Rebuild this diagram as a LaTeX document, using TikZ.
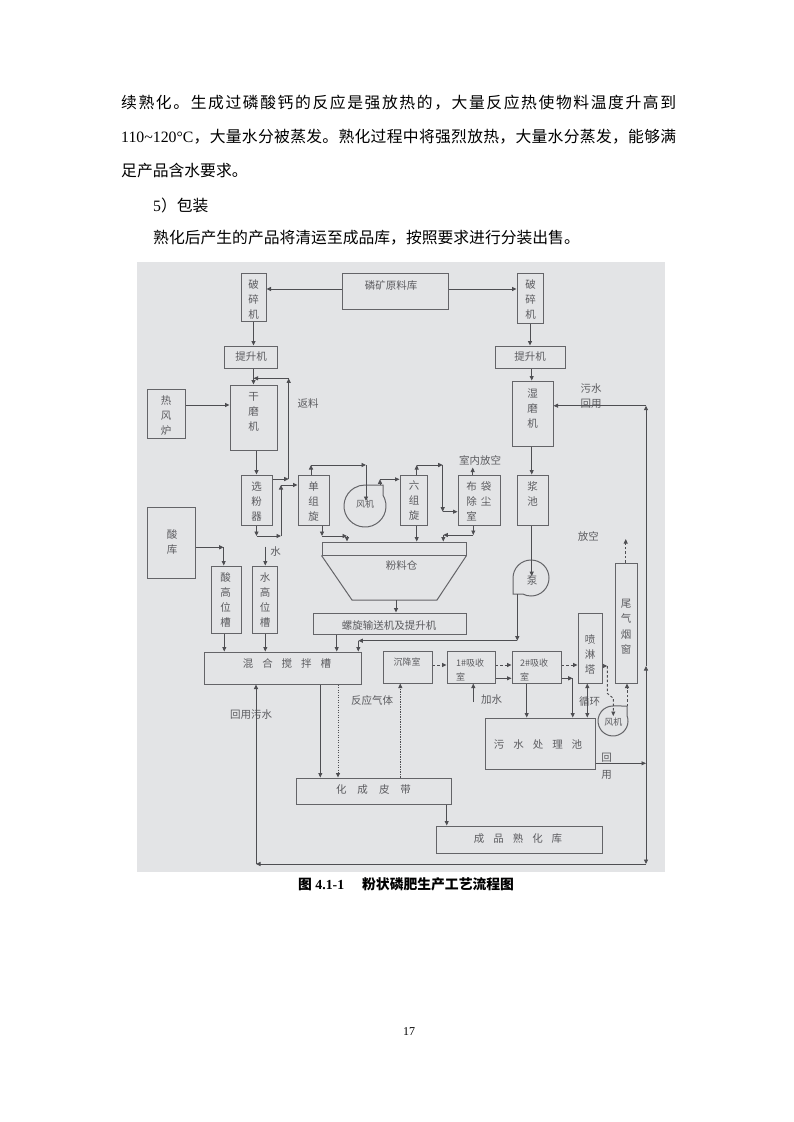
\documentclass[tikz,border=0pt]{standalone}
\usepackage{fontspec}
\setmainfont{Liberation Serif}
\newfontfamily\cjk{Noto Sans CJK SC}
\usetikzlibrary{arrows.meta,calc}
\def\spr#1{\ifx\relax#1\unskip\else#1\hfil\expandafter\spr\fi}
\definecolor{bg}{RGB}{227,228,230}
\definecolor{ln}{RGB}{78,78,82}
\definecolor{bx}{RGB}{100,100,104}
\definecolor{tx}{RGB}{92,92,96}
\tikzset{
  box/.style={draw=bx, line width=1pt, inner sep=0pt},
  lbl/.style={font=\cjk\fontsize{10.5}{15}\selectfont, text=tx, inner sep=0pt, align=center},
  sml/.style={font=\cjk\fontsize{9}{13.4}\selectfont, text=tx, inner sep=0pt, align=left},
  arr/.style={draw=ln, line width=0.9pt, -{Triangle[length=4.5pt,width=4pt]}},
  arrboth/.style={draw=ln, line width=0.9pt, {Triangle[length=4.5pt,width=4pt]}-{Triangle[length=4.5pt,width=4pt]}},
  arrdash/.style={arr, dash pattern=on 2.5pt off 2pt},
  arrdot/.style={arr, dash pattern=on 1.2pt off 1.3pt},
  body/.style={font=\cjk\fontsize{15.8}{20}\selectfont, inner sep=0pt, text=black},
}
\begin{document}
\begin{tikzpicture}[x=1pt,y=-1pt]
\useasboundingbox (0,0) rectangle (793,1122);
\fill[white] (0,0) rectangle (793,1122);

% ---------------- body text ----------------
\node[body, anchor=west] (t1) at (121,103)
  {\hbox to 555pt{\spr 续熟化。生成过磷酸钙的反应是强放热的，大量反应热使物料温度升高到\relax}};
\node[body, anchor=west] (t2) at (121,137)
  {\hbox to 555pt{{\rmfamily 110\textasciitilde 120°C}\hfil\spr ，大量水分被蒸发。熟化过程中将强烈放热，大量水分蒸发，能够满\relax}};
\node[body, anchor=west] (t3) at (121,171) {足产品含水要求。};
\node[body, anchor=west] (t4) at (153,205) {{\rmfamily 5}）包装};
\node[body, anchor=west] (t5) at (153,238) {熟化后产生的产品将清运至成品库，按照要求进行分装出售。};

% ---------------- figure background ----------------
\fill[bg] (137,262) rectangle (665,872);

% ---------------- boxes ----------------
\node[box, minimum width=25pt, minimum height=48pt] (psL) at (253.5,297) {};
\node[box, minimum width=106pt, minimum height=36pt] (lk) at (395,291) {};
\node[box, minimum width=26pt, minimum height=50pt] (psR) at (530,298) {};
\node[box, minimum width=53pt, minimum height=22pt] (tsL) at (250.5,357) {};
\node[box, minimum width=70pt, minimum height=22pt] (tsR) at (530,357) {};
\node[box, minimum width=47pt, minimum height=65pt] (gmj) at (253.5,417.5) {};
\node[box, minimum width=38pt, minimum height=49pt] (rfl) at (166,413.5) {};
\node[box, minimum width=41pt, minimum height=65pt] (smj) at (532.5,413.5) {};
\node[box, minimum width=31pt, minimum height=50pt] (xfq) at (256.5,500) {};
\node[box, minimum width=31pt, minimum height=50pt] (dzx) at (313.5,500) {};
\node[box, minimum width=27pt, minimum height=50pt] (lzx) at (413.5,500) {};
\node[box, minimum width=42pt, minimum height=50pt] (bd) at (479,500) {};
\node[box, minimum width=31pt, minimum height=50pt] (jc) at (532.5,500) {};
\node[box, minimum width=48pt, minimum height=71pt] (sk) at (171,542.5) {};
\node[box, minimum width=30pt, minimum height=67pt] (sgw) at (226,599.5) {};
\node[box, minimum width=25pt, minimum height=67pt] (wgw) at (264.5,599.5) {};
\node[box, minimum width=144pt, minimum height=13pt] (flc) at (394,548.5) {};
\draw[draw=bx, line width=1pt] (flc.south west) -- (352,600) -- (437,600) -- (flc.south east);
\coordinate (flcb) at (396,600);
\node[box, minimum width=153pt, minimum height=21pt] (lx) at (389.5,623.5) {};
\node[box, minimum width=157pt, minimum height=32pt] (hh) at (282.5,668) {};
\node[box, minimum width=49pt, minimum height=32pt] (cjs) at (407.5,667) {};
\node[box, minimum width=48pt, minimum height=32pt] (x1) at (471,667) {};
\node[box, minimum width=49pt, minimum height=32pt] (x2) at (536.5,667) {};
\node[box, minimum width=24pt, minimum height=70pt] (plt) at (590,648) {};
\node[box, minimum width=22pt, minimum height=120pt] (wq) at (626,623) {};
\node[box, minimum width=110pt, minimum height=51pt] (ws) at (540,743.5) {};
\node[box, minimum width=155pt, minimum height=26pt] (hc) at (373.5,791) {};
\node[box, minimum width=166pt, minimum height=27pt] (cp) at (519,839.5) {};

% fans and pump
\coordinate (fan1c) at (365,506);
\draw[draw=bx, line width=1pt] (383,495.2) arc[start angle=31, end angle=-270, radius=21pt] -- (383,485) -- cycle;
\coordinate (fan2c) at (613,721);
\draw[draw=bx, line width=1pt] (627,715.6) arc[start angle=21, end angle=-270, radius=15pt] -- (627,706) -- cycle;
\coordinate (pumpc) at (531,578);
\draw[draw=bx, line width=1pt] (513,578) arc[start angle=180, end angle=-117.3, radius=18pt] -- (513,594) -- cycle;

% ---------------- texts in boxes ----------------
\node[lbl] (psLt) at (253.5,300) {破\\碎\\机};
\node[lbl] (psRt) at (530.5,299.5) {破\\碎\\机};
\node[lbl] (lkt) at (391,285.5) {磷矿原料库};
\node[lbl] (tsLt) at (251,357) {提升机};
\node[lbl] (tsRt) at (530,357) {提升机};
\node[lbl] (gmjt) at (253.5,411.7) {干\\磨\\机};
\node[lbl] (rflt) at (166,416) {热\\风\\炉};
\node[lbl] (smjt) at (532.5,408.3) {湿\\磨\\机};
\node[lbl] (xfqt) at (256.5,502) {选\\粉\\器};
\node[lbl] (dzxt) at (313.5,501.7) {单\\组\\旋};
\node[lbl] (lzxt) at (414,501) {六\\组\\旋};
\node[lbl, align=left, anchor=west] (bdt) at (466.2,501.7) {布\hspace{4pt}袋\\除\hspace{4pt}尘\\室};
\node[lbl] (jct) at (532.5,494.2) {浆\\池};
\node[lbl] (skt) at (172,542) {酸\\库};
\node[lbl] (sgwt) at (225.5,600.5) {酸\\高\\位\\槽};
\node[lbl] (wgwt) at (265,600.5) {水\\高\\位\\槽};
\node[lbl] (flct) at (401.7,565) {粉料仓};
\node[lbl] (lxt) at (389,625) {螺旋输送机及提升机};
\node[lbl] (hht) at (287,663.3) {混\hspace{9pt}合\hspace{9pt}搅\hspace{9pt}拌\hspace{9pt}槽};
\node[sml] (cjst) at (407,661.7) {沉降室};
\node[sml, anchor=west] (x1t) at (456,670) {1\#吸收\\室};
\node[sml, anchor=west] (x2t) at (520,670) {2\#吸收\\室};
\node[lbl] (pltt) at (590,655) {喷\\淋\\塔};
\node[lbl, font=\cjk\fontsize{10.5}{15.5}\selectfont] (wqt) at (626,627) {尾\\气\\烟\\窗};
\node[lbl] (wst) at (538,745) {污\hspace{9pt}水\hspace{9pt}处\hspace{9pt}理\hspace{9pt}池};
\node[lbl] (hct) at (373.5,790) {化\hspace{11pt}成\hspace{11pt}皮\hspace{11pt}带};
\node[lbl] (cpt) at (518,838.3) {成\hspace{9pt}品\hspace{9pt}熟\hspace{9pt}化\hspace{9pt}库};
\node[sml] (fan1t) at (365,504) {风机};
\node[sml] (fan2t) at (613.3,722) {风机};
\node[lbl] (pumpt) at (532,581) {泵};

% ---------------- free labels ----------------
\node[lbl] (flt) at (308,403) {返料};
\node[lbl, align=left] (wshy) at (591,395.8) {污水\\回用};
\node[lbl] (snfk) at (480,460.5) {室内放空};
\node[lbl] (shui) at (275.5,551.7) {水};
\node[lbl] (fkt) at (588.3,536.7) {放空};
\node[lbl] (jst) at (491.7,700) {加水};
\node[lbl] (xht) at (589.5,701.7) {循环};
\node[lbl, font=\cjk\fontsize{10.5}{17.3}\selectfont] (hyt) at (606.7,766.3) {回\\用};
\node[lbl] (fyqt) at (372,700) {反应气体};
\node[lbl] (hyws) at (251,715) {回用污水};

% ---------------- connectors ----------------
\draw[arr] ([yshift=2pt]lk.west) -- ([yshift=8pt]psL.east);
\draw[arr] ([yshift=2pt]lk.east) -- ([yshift=9pt]psR.west);
\draw[arr] (psL.south) -- (psL.south |- tsL.north);
\draw[arr] (psR.south) -- (tsR.north);
\draw[arr] (gmj.north |- tsL.south) -- (gmj.north);
\draw[arr] ([yshift=8.5pt]rfl.east) -- ([yshift=12.5pt]gmj.west);
\draw[arr] (xfq.north |- gmj.south) -- (xfq.north);

% return material
\coordinate (fl1) at (288.7,479);
\coordinate (fl2) at (288.7,378.3);
\draw[arr] ([yshift=21pt]xfq.east) -- (fl1);
\draw[arr] (fl1) -- (fl2);
\draw[arr] (fl2) -- (fl2 -| gmj.north);

% classifier -> single cyclone
\coordinate (s1) at (256.5,536);
\coordinate (s2) at (281,536);
\coordinate (s3) at (281,485);
\draw[arr] (xfq.south) -- (s1);
\draw[arr] (s1) -- (s2);
\draw[arr] (s2) -- (s3);
\draw[arr] (s3) -- (s3 -| dzx.west);

% single cyclone -> fan
\coordinate (d1) at (311,465);
\coordinate (d2) at (366,465);
\draw[arr] (d1 |- dzx.north) -- (d1);
\draw[arr] (d1) -- (d2);
\draw[arr] (d2) -- (366,501);

% fan -> six cyclones
\coordinate (f1o) at (380,485);
\coordinate (f1u) at (380,479.3);
\draw[arr] (f1o) -- (f1u);
\draw[arr] (f1u) -- (f1u -| lzx.west);

% six cyclones -> bag filter
\coordinate (l1) at (416.7,465);
\coordinate (l2) at (442.7,465);
\coordinate (l3) at (442.7,511.7);
\draw[arr] (l1 |- lzx.north) -- (l1);
\draw[arr] (l1) -- (l2);
\draw[arr] (l2) -- (l3);
\draw[arr] (l3) -- (l3 -| bd.west);
\coordinate (b1) at (472.7,467.5);
\draw[arr] (b1 |- bd.north) -- (b1);

% into powder bin
\draw[arr] (l1 |- lzx.south) -- (l1 |- flc.north);
\coordinate (u1) at (322,536);
\coordinate (u2) at (347,536);
\draw[arr] (u1 |- dzx.south) -- (u1);
\draw[arr] (u1) -- (u2);
\draw[arr] (u2) -- (u2 |- flc.north);
\coordinate (v1) at (473.3,535);
\coordinate (v2) at (443.3,535);
\draw[arr] (v1 |- bd.south) -- (v1);
\draw[arr] (v1) -- (v2);
\draw[arr] (v2) -- (v2 |- flc.north);

\draw[arr] (flcb) -- (flcb |- lx.north);
\coordinate (k1) at (336.7,0);
\draw[arr] (k1 |- lx.south) -- (k1 |- hh.north);

% acid & water
\coordinate (a1) at (223.7,547.3);
\draw[arr] (a1 -| sk.east) -- (a1);
\draw[arr] (a1) -- (a1 |- sgw.north);
\coordinate (w1) at (265.3,546.7);
\draw[arr] (w1) -- (w1 |- wgw.north);
\coordinate (a2) at (224.3,0);
\draw[arr] (a2 |- sgw.south) -- (a2 |- hh.north);
\coordinate (w2) at (265.3,0);
\draw[arr] (w2 |- wgw.south) -- (w2 |- hh.north);

% wet line
\coordinate (r1) at (531.7,0);
\draw[arr] (r1 |- tsR.south) -- (r1 |- smj.north);
\draw[arr] (r1 |- smj.south) -- (r1 |- jc.north);
\draw[arr] (r1 |- jc.south) -- (r1 |- pumpt.north);
\coordinate (p1) at (517.3,594);
\coordinate (p2) at (517.3,640.7);
\coordinate (p3) at (358.3,640.7);
\draw[arr] (p1) -- (p2);
\draw[arr] (p2) -- (p3);
\draw[arr] (p3) -- (p3 |- hh.north);

% mixing -> belt
\coordinate (h1) at (320.3,0);
\draw[arr] (h1 |- hh.south) -- (h1 |- hc.north);
\coordinate (h2) at (338,0);
\draw[arrdot] (h2 |- hh.south) -- (h2 |- hc.north);
\coordinate (h3) at (400.3,0);
\draw[arrdot] (h3 |- hc.north) -- (h3 |- cjs.south);
\coordinate (h4) at (446.7,0);
\draw[arr] (h4 |- hc.south) -- (h4 |- cp.north);

% gas treatment
\draw[arrdash] ([yshift=2pt]cjs.east) -- ([yshift=2pt]x1.west);
\draw[arrdash] ([yshift=2pt]x1.east) -- ([yshift=2pt]x2.west);
\draw[arr] ([yshift=-11.3pt]x1.east) -- ([yshift=-11.3pt]x2.west);
\draw[arrdash] ([yshift=2pt]x2.east) -- ([yshift=-17pt]plt.west);
\coordinate (g1) at (572.7,678.3);
\draw[arr] ([yshift=-11.3pt]x2.east) -- (g1);
\draw[arr] (g1) -- (g1 |- ws.north);
\coordinate (g2) at (526.7,0);
\draw[arr] (g2 |- x2.south) -- (g2 |- ws.north);
\coordinate (js) at (473.3,702);
\draw[arr] (js) -- (js |- x1.south);
\coordinate (xh) at (587.3,0);
\draw[arrboth] (xh |- plt.south) -- (xh |- ws.north);
\coordinate (q1) at (607.3,666);
\coordinate (q2) at (607.3,693.3);
\coordinate (q3) at (613.3,698.3);
\coordinate (q4) at (613.3,716);
\draw[arrdash] (q1 -| plt.east) -- (q1);
\draw[arrdash] (q1) -- (q2) -- (q3) -- (q4);
\coordinate (f2o) at (627,706);
\draw[arrdash] (f2o) -- (f2o |- wq.south);
\coordinate (fk) at (625.7,539);
\draw[arrdash] (fk |- wq.north) -- (fk);

% water return loop
\coordinate (rw1) at (646,763.3);
\coordinate (rw2) at (646,666);
\coordinate (rw3) at (646,405.7);
\coordinate (rw4) at (646,864);
\coordinate (rw5) at (256,864);
\draw[arr] (rw1 -| ws.east) -- (rw1);
\draw[arr] (rw1) -- (rw2);
\draw[arr] (rw2) -- (rw3);
\draw[arr] (rw3) -- (rw3 -| smj.east);
\draw[arr] (rw1) -- (rw4);
\draw[arr] (rw4) -- (rw5);
\draw[arr] (rw5) -- (rw5 |- hh.south);

% ---------------- caption & page number ----------------
\node[anchor=west, inner sep=0pt, font=\bfseries\fontsize{13.8}{16}\selectfont] (cap) at (298,884)
  {{\cjk\bfseries 图} 4.1-1\hspace{18pt}{\cjk\bfseries 粉状磷肥生产工艺流程图}};
\node[inner sep=0pt, font=\fontsize{12}{14}\selectfont] (pg) at (409,1032) {17};
\end{tikzpicture}
\end{document}
